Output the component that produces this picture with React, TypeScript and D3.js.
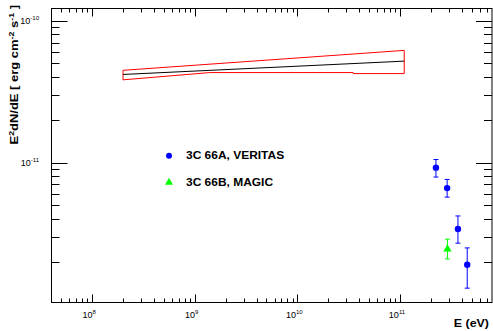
import React from "react";
import * as d3 from "d3";

// VERITAS points (E in eV, E^2 dN/dE in erg cm^-2 s^-1)
const veritasE = [2.24e11, 2.88e11, 3.67e11, 4.52e11];
const veritasFlux = [9.2e-12, 6.6e-12, 3.4e-12, 1.9e-12];
const veritasLo = [7.9e-12, 5.7e-12, 2.7e-12, 1.3e-12];
const veritasHi = [1.05e-11, 7.6e-12, 4.2e-12, 2.5e-12];

// MAGIC point
const magicE = [2.9e11];
const magicFlux = [2.45e-12];
const magicLo = [2.09e-12];
const magicHi = [2.88e-12];

// Fermi butterfly
const bowUpperE = [2e8, 1.1e11];
const bowUpperF = [4.47e-11, 6.18e-11];
const bowLowerE = [1.1e11, 3.5e10, 3.5e10, 1.4e9, 2e8];
const bowLowerF = [4.24e-11, 4.24e-11, 4.31e-11, 4.31e-11, 3.83e-11];
const bowCenterE = [2e8, 1.1e11];
const bowCenterF = [4.18e-11, 5.19e-11];

const xDecades = [8, 9, 10, 11];
const yDecades = [-11, -10];
const legendLabels = ["3C 66A, VERITAS", "3C 66B, MAGIC"];

const W = 493;
const H = 331;
const left = 51.5;
const right = 492;
const top = 8.5;
const bottom = 302.5;

export default function App() {
  const x = d3.scaleLog().domain([4.02e7, 7.88e11]).range([left, right]);
  const y = d3.scaleLog().domain([1.03e-12, 1.22e-10]).range([bottom, top]);

  const line = d3
    .line<[number, number]>()
    .x((d) => x(d[0]))
    .y((d) => y(d[1]));

  const upper = bowUpperE.map((e, i) => [e, bowUpperF[i]] as [number, number]);
  const lower = bowLowerE.map((e, i) => [e, bowLowerF[i]] as [number, number]);
  const bow = line([...upper, ...lower, upper[0]]);
  const center = line(bowCenterE.map((e, i) => [e, bowCenterF[i]] as [number, number]));

  // log ticks 1..9 per decade
  const xTicks: { v: number; major: boolean }[] = [];
  for (let d = 7; d <= 11; d++) {
    for (let m = 1; m <= 9; m++) {
      const v = m * Math.pow(10, d);
      if (v >= x.domain()[0] && v <= x.domain()[1]) xTicks.push({ v, major: m === 1 });
    }
  }
  const yTicks: { v: number; major: boolean }[] = [];
  for (let d = -12; d <= -10; d++) {
    for (let m = 1; m <= 9; m++) {
      const v = m * Math.pow(10, d);
      if (v >= y.domain()[0] && v <= y.domain()[1]) yTicks.push({ v, major: m === 1 });
    }
  }

  const font = "Liberation Sans, Arial, sans-serif";
  const cap = 2.5;

  return (
    <svg
      width={W}
      height={H}
      style={{ position: "absolute", left: 0, top: 0, background: "#fff" }}
      fontFamily={font}
    >
      <rect x={0} y={0} width={W} height={H} fill="#fff" />
      {/* frame */}
      <rect x={left} y={top} width={right - left} height={bottom - top} fill="none" stroke="#000" strokeWidth={1} />

      {/* x ticks bottom and top */}
      {xTicks.map((t, i) => {
        const len = t.major ? 8 : 4;
        const px = Math.round(x(t.v)) + 0.5;
        return (
          <g key={"xt" + i} stroke="#000" strokeWidth={1}>
            <line x1={px} x2={px} y1={bottom} y2={bottom - len} />
            <line x1={px} x2={px} y1={top} y2={top + len} />
          </g>
        );
      })}
      {/* y ticks left and right */}
      {yTicks.map((t, i) => {
        const len = t.major ? 16 : 8;
        const py = Math.round(y(t.v)) + 0.5;
        return (
          <g key={"yt" + i} stroke="#000" strokeWidth={1}>
            <line x1={left} x2={left + len} y1={py} y2={py} />
            <line x1={right} x2={right - len} y1={py} y2={py} />
          </g>
        );
      })}

      {/* x tick labels */}
      {xDecades.map((d) => (
        <text key={"xl" + d} x={x(Math.pow(10, d)) - 3} y={318} fontSize={9} textAnchor="middle" fill="#000">
          10
          <tspan fontSize={6} dy={-4}>
            {d}
          </tspan>
        </text>
      ))}
      {/* y tick labels */}
      {yDecades.map((d) => (
        <text key={"yl" + d} x={39} y={y(Math.pow(10, d)) + 3.5} fontSize={9} textAnchor="end" fill="#000">
          10
          <tspan fontSize={6} dy={-4}>
            {d}
          </tspan>
        </text>
      ))}

      {/* axis titles */}
      <text
        transform="translate(489, 327) scale(1.08, 1)"
        fontSize={11.5}
        fontWeight="bold"
        textAnchor="end"
        fill="#000"
      >
        E (eV)
      </text>
      <text
        transform="translate(17.5, 5) rotate(-90) scale(1.18, 1)"
        fontSize={11}
        fontWeight="bold"
        textAnchor="end"
        fill="#000"
      >
        E<tspan fontSize={7.5} dy={-4}>2</tspan>
        <tspan dy={4}>dN/dE [ erg cm</tspan>
        <tspan fontSize={7.5} dy={-4}>-2</tspan>
        <tspan dy={4}> s</tspan>
        <tspan fontSize={7.5} dy={-4}>-1</tspan>
        <tspan dy={4}> ]</tspan>
      </text>

      {/* butterfly */}
      <path d={bow ?? ""} fill="none" stroke="#ff0000" strokeWidth={1} />
      <path d={center ?? ""} fill="none" stroke="#000" strokeWidth={1} />

      {/* VERITAS */}
      {veritasE.map((e, i) => {
        const px = x(e);
        return (
          <g key={"v" + i} stroke="#0000ff" strokeWidth={1}>
            <line x1={px} x2={px} y1={y(veritasLo[i])} y2={y(veritasHi[i])} />
            <line x1={px - cap} x2={px + cap} y1={y(veritasLo[i])} y2={y(veritasLo[i])} />
            <line x1={px - cap} x2={px + cap} y1={y(veritasHi[i])} y2={y(veritasHi[i])} />
            <circle cx={px} cy={y(veritasFlux[i])} r={3.2} fill="#0000ff" stroke="none" />
          </g>
        );
      })}

      {/* MAGIC */}
      {magicE.map((e, i) => {
        const px = x(e);
        const py = y(magicFlux[i]);
        return (
          <g key={"m" + i} stroke="#00ff00" strokeWidth={1}>
            <line x1={px} x2={px} y1={y(magicLo[i])} y2={y(magicHi[i])} />
            <line x1={px - cap} x2={px + cap} y1={y(magicLo[i])} y2={y(magicLo[i])} />
            <line x1={px - cap} x2={px + cap} y1={y(magicHi[i])} y2={y(magicHi[i])} />
            <path d={d3.symbol(d3.symbolTriangle, 30)() ?? ""} transform={`translate(${px},${py})`} fill="#00ff00" stroke="none" />
          </g>
        );
      })}

      {/* legend */}
      <circle cx={169} cy={155.7} r={3} fill="#0000ff" />
      <path d={d3.symbol(d3.symbolTriangle, 28)() ?? ""} transform="translate(169,182.5)" fill="#00ff00" />
      {legendLabels.map((s, i) => (
        <text
          key={s}
          transform={`translate(186, ${159.3 + i * 27}) scale(1.14, 1)`}
          fontSize={10.5}
          fontWeight="bold"
          fill="#000"
        >
          {s}
        </text>
      ))}
    </svg>
  );
}
